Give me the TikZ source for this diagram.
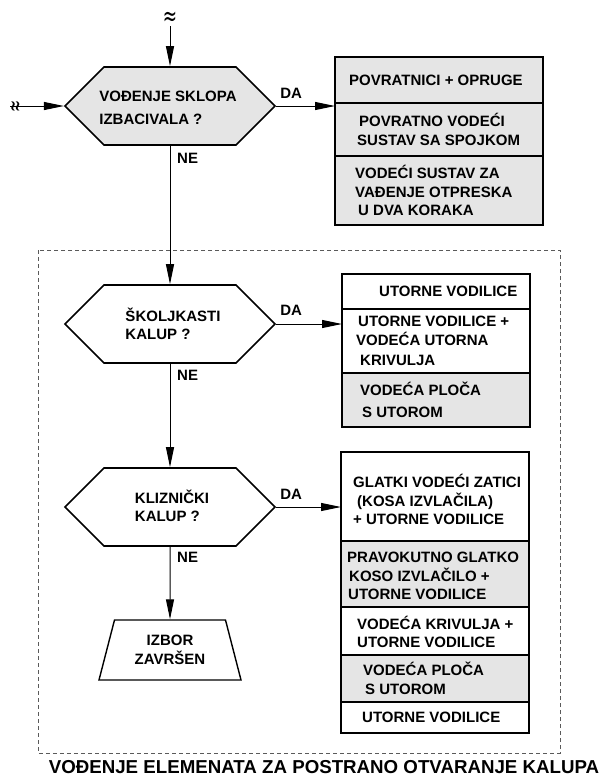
\documentclass[tikz,border=0pt]{standalone}
\usepackage{fontspec}
\setmainfont{Liberation Sans}
\newfontfamily\wavefont{DejaVu Sans}
\usetikzlibrary{arrows.meta,shapes.symbols,shapes.geometric,calc}
\definecolor{boxgray}{RGB}{229,229,229}
\definecolor{dashgray}{RGB}{90,90,90}
\begin{document}
\begin{tikzpicture}[x=1pt,y=-1pt,
  every node/.style={font=\bfseries\fontsize{15}{18.5}\selectfont},
  hexa/.style={signal, signal to=east and west, signal pointer angle=90,
    draw, line width=1.6pt, minimum width=210, minimum height=78, inner sep=0},
  txt/.style={anchor=west, align=left, inner sep=0},
  cell/.style={draw, line width=1.6pt, rectangle, anchor=north west, outer sep=0, inner sep=0},
  graycell/.style={cell, fill=boxgray},
  conn/.style={line width=1pt, -{Triangle[length=20pt,width=8pt]}},
  lbl/.style={anchor=west, inner sep=0},
  wave/.style={inner sep=0.5pt, font=\wavefont\fontsize{17}{17}\selectfont}
]
\useasboundingbox (0,0) rectangle (603,780);

% dashed frame
\draw[dashgray, line width=0.8pt, dash pattern=on 4pt off 3pt] (38,250) rectangle (560,753);

% inputs
\node[wave] (inA) at (170,19) {\scalebox{1}[1.6]{≈}};
\node[wave, rotate=90] (inB) at (17,106) {\scalebox{0.85}[1.4]{≈}};

% decision 1
\node[hexa, fill=boxgray] (h1) at (170,106) {};
\node[anchor=center, align=left, inner sep=0, font=\bfseries\fontsize{15}{22.5}\selectfont] (h1t) at (168,108) {VOĐENJE SKLOPA\\IZBACIVALA ?};

% decision 2
\node[hexa, fill=white] (h2) at (170,324) {};
\node[align=left, inner sep=0] (h2t) at (173,324) {ŠKOLJKASTI\\KALUP ?};

% decision 3
\node[hexa, fill=white] (h3) at (170,507) {};
\node[align=left, inner sep=0] (h3t) at (172,506) {KLIZNIČKI\\KALUP ?};

% end
\node[trapezium, trapezium left angle=71.6, trapezium right angle=71.6,
  trapezium stretches=true, minimum width=143, minimum height=60,
  draw, line width=1.4pt, align=center, inner sep=0,
  font=\bfseries\fontsize{15}{19}\selectfont] (end) at (170,650) {IZBOR\\ZAVRŠEN};

% box 1
\node[graycell, minimum width=208, minimum height=46] (b1a) at (335,57) {};
\node[graycell, minimum width=208, minimum height=53] (b1b) at (335,103) {};
\node[graycell, minimum width=208, minimum height=69] (b1c) at (335,156) {};
\node[txt] (b1at) at ($(b1a.west)+(14,0)$) {POVRATNICI + OPRUGE};
\node[txt] (b1bt) at ($(b1b.west)+(22,0)$) {\hspace*{2pt}POVRATNO VODEĆI\\SUSTAV SA SPOJKOM};
\node[txt] (b1ct) at ($(b1c.west)+(20,0)$) {VODEĆI SUSTAV ZA\\VAĐENJE OTPRESKA\\\hspace*{3pt}U DVA KORAKA};

% box 2
\node[cell, minimum width=188, minimum height=35] (b2a) at (342,274) {};
\node[cell, minimum width=188, minimum height=64] (b2b) at (342,309) {};
\node[graycell, minimum width=188, minimum height=54] (b2c) at (342,373) {};
\node[txt] (b2at) at ($(b2a.west)+(37,0)$) {UTORNE VODILICE};
\node[txt] (b2bt) at ($(b2b.west)+(14,0)$) {\hspace*{2pt}UTORNE VODILICE +\\VODEĆA UTORNA\\[1.5pt]\hspace*{4pt}KRIVULJA};
\node[txt] (b2ct) at ($(b2c.west)+(18,0)$) {VODEĆA PLOČA\\[3.5pt]\hspace*{2pt}S UTOROM};

% box 3
\node[cell, minimum width=188, minimum height=89] (b3a) at (341,452) {};
\node[graycell, minimum width=188, minimum height=66] (b3b) at (341,541) {};
\node[cell, minimum width=188, minimum height=48] (b3c) at (341,607) {};
\node[graycell, minimum width=188, minimum height=47] (b3d) at (341,655) {};
\node[cell, minimum width=188, minimum height=31] (b3e) at (341,702) {};
\node[txt] (b3at) at ($(b3a.west)+(12,3)$) {GLATKI VODEĆI ZATICI\\\hspace*{4pt}(KOSA IZVLAČILA)\\+ UTORNE VODILICE};
\node[txt] (b3bt) at ($(b3b.west)+(6,2)$) {PRAVOKUTNO GLATKO\\\hspace*{2pt}KOSO IZVLAČILO +\\\hspace*{1pt}UTORNE VODILICE};
\node[txt] (b3ct) at ($(b3c.west)+(16,1)$) {VODEĆA KRIVULJA +\\UTORNE VODILICE};
\node[txt] (b3dt) at ($(b3d.west)+(22,0)$) {VODEĆA PLOČA\\\hspace*{2pt}S UTOROM};
\node[txt] (b3et) at ($(b3e.west)+(21,0)$) {UTORNE VODILICE};

% connectors
\draw[conn] (inA.south) -- (h1.north);
\draw[conn] (inB.north) -- (h1.west);
\draw[conn] (h1.east) -- (h1.east -| b1b.west);
\draw[conn] (h1.south) -- (h2.north);
\draw[conn] (h2.east) -- (h2.east -| b2b.west);
\draw[conn] (h2.south) -- (h3.north);
\draw[conn] (h3.east) -- (h3.east -| b3a.west);
\draw[conn] (h3.south) -- (end.north);

% labels
\node[lbl] (da1) at ($(h1.east)+(4,-13)$) {DA};
\node[lbl] (da2) at ($(h2.east)+(4,-14)$) {DA};
\node[lbl] (da3) at ($(h3.east)+(4,-13)$) {DA};
\node[lbl] (ne1) at ($(h1.south)+(7,13)$) {NE};
\node[lbl] (ne2) at ($(h2.south)+(7,12)$) {NE};
\node[lbl] (ne3) at ($(h3.south)+(7,11)$) {NE};

% title
\node[inner sep=0, font=\bfseries\fontsize{18.7}{22}\selectfont] (title) at (324,767) {VOĐENJE ELEMENATA ZA POSTRANO OTVARANJE KALUPA};
\end{tikzpicture}
\end{document}
